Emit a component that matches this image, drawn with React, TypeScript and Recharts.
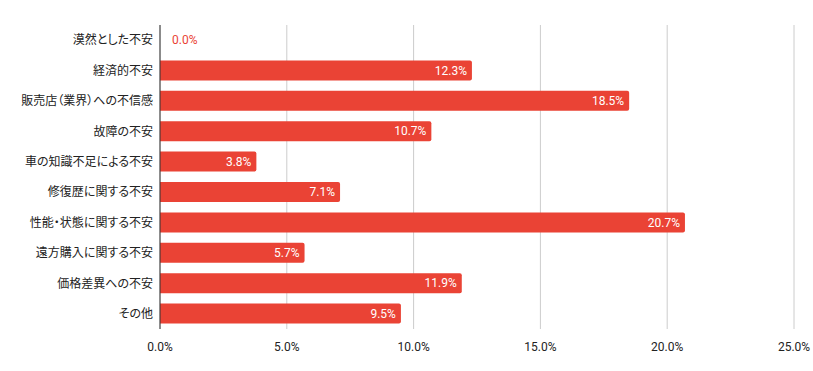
import { BarChart, Bar, XAxis, YAxis, CartesianGrid } from 'recharts';

const categories = [
  '漠然とした不安',
  '経済的不安',
  '販売店（業界）への不信感',
  '故障の不安',
  '車の知識不足による不安',
  '修復歴に関する不安',
  '性能・状態に関する不安',
  '遠方購入に関する不安',
  '価格差異への不安',
  'その他',
];

const shares = [0.0, 12.3, 18.5, 10.7, 3.8, 7.1, 20.7, 5.7, 11.9, 9.5];

const xTicks = [0, 5, 10, 15, 20, 25];

const data = categories.map((name, i) => ({ name, value: shares[i] }));

const RED = '#ea4335';

// bar + its value label drawn together so the 0.0% row still gets a label
const BarWithLabel = (props: any) => {
  const { x, y, width, height, value } = props;
  const v = Array.isArray(value) ? value[1] - value[0] : value;
  const text = `${Number(v).toFixed(1)}%`;
  const cy = y + height / 2;
  const w = Math.max(0, width || 0);
  const r = Math.min(2, w / 2);
  const path = w > 0
    ? `M${x},${y} h${w - r} a${r},${r} 0 0 1 ${r},${r} v${height - 2 * r} a${r},${r} 0 0 1 ${-r},${r} h${-(w - r)} Z`
    : '';
  return (
    <g>
      {w > 0 && <path d={path} fill={RED} />}
      {w < 40 ? (
        <text x={x + w + 12} y={cy} dy="0.35em" fill={RED} fontSize={12} fontFamily="Roboto" textAnchor="start">
          {text}
        </text>
      ) : (
        <text x={x + w - 5} y={cy} dy="0.35em" fill="#fff" fontSize={12} fontFamily="Roboto" textAnchor="end">
          {text}
        </text>
      )}
    </g>
  );
};

export default function App() {
  return (
    <div style={{ position: 'absolute', left: 0, top: 0, background: '#fff' }}>
      <BarChart
        width={813}
        height={371}
        data={data}
        layout="vertical"
        margin={{ top: 25, right: 19, bottom: 12, left: 0 }}
      >
        <CartesianGrid horizontal={false} stroke="#cccccc" />
        <XAxis
          type="number"
          domain={[0, 25]}
          ticks={xTicks}
          tickFormatter={(v) => `${v.toFixed(1)}%`}
          axisLine={false}
          tickLine={false}
          tickSize={0}
          tickMargin={13}
          height={30}
          tick={{ fill: '#222', fontSize: 12, fontFamily: 'Roboto' }}
        />
        <YAxis
          type="category"
          dataKey="name"
          width={160}
          tickLine={false}
          tickSize={0}
          tickMargin={7}
          axisLine={{ stroke: '#333' }}
          tick={{ fill: '#222', fontSize: 12, fontFamily: '"Noto Sans CJK JP"', style: { fontFeatureSettings: '"palt"' } }}
          interval={0}
        />
        <Bar dataKey="value" fill={RED} barSize={20} shape={BarWithLabel} isAnimationActive={false} />
      </BarChart>
    </div>
  );
}
